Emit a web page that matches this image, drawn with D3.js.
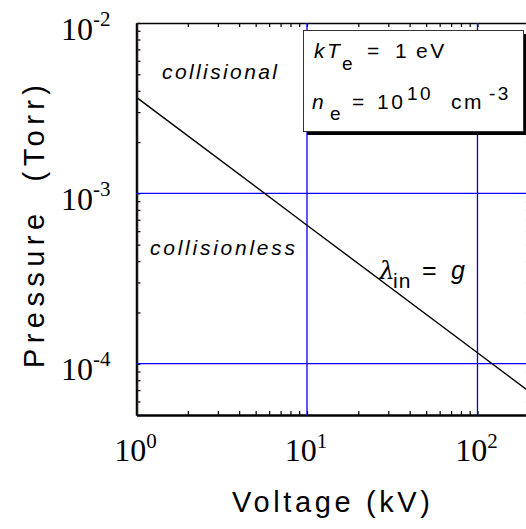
<!DOCTYPE html>
<html>
<head>
<meta charset="utf-8">
<script src="https://cdn.jsdelivr.net/npm/d3@7"></script>
<style>
  body { margin: 0; background: #fff; }
  svg { display: block; }
  text { white-space: pre; }
</style>
</head>
<body>
<script>
// datos
var voltage = [1, 10, 100, 200];
var pressure = [3.66e-3, 6.5e-4, 1.16e-4, 6.9e-5];
var xMajor = [1, 10, 100];
var xExp = ["0", "1", "2"];
var yMajor = [1e-2, 1e-3, 1e-4];
var yExp = ["-2", "-3", "-4"];

var W = 526, H = 529;
var svg = d3.select("body").append("svg")
    .attr("width", W)
    .attr("height", H);

// escalas log
var x = d3.scaleLog().domain([1, 200]).range([136.5, 528.8]);
var y = d3.scaleLog().domain([5e-5, 1e-2]).range([415, 23]);

var blue = "#0000ff";

// ticks menores
function minors(lo, hi) {
  var out = [];
  for (var e = Math.floor(Math.log10(lo)); e <= Math.ceil(Math.log10(hi)); e++) {
    for (var k = 1; k < 10; k++) {
      var v = k * Math.pow(10, e);
      if (v >= lo && v <= hi) out.push(v);
    }
  }
  return out;
}
var xMin = minors(1, 200), yMin = minors(5e-5, 1e-2);

// ejes
var axB = svg.append("g").attr("transform", "translate(0," + y(5e-5) + ")")
    .call(d3.axisBottom(x).tickValues(xMin).tickSize(-4).tickSizeOuter(0).tickFormat(""));
var axT = svg.append("g").attr("transform", "translate(0," + y(1e-2) + ")")
    .call(d3.axisTop(x).tickValues(xMin).tickSize(-4).tickSizeOuter(0).tickFormat(""));
var axL = svg.append("g").attr("transform", "translate(" + x(1) + ",0)")
    .call(d3.axisLeft(y).tickValues(yMin).tickSize(-4).tickSizeOuter(0).tickFormat(""));
var axR = svg.append("g").attr("transform", "translate(" + x(200) + ",0)")
    .call(d3.axisRight(y).tickValues(yMin).tickSize(-4).tickSizeOuter(0).tickFormat(""));
[axB, axT, axL, axR].forEach(function(a){
  a.selectAll(".tick line").attr("stroke", "#000").attr("stroke-width", 1.2);
  a.select(".domain").attr("stroke", "#000").attr("stroke-width", 1.5);
});
axB.select(".domain").attr("stroke-width", 2.5);
axL.select(".domain").attr("stroke-width", 2.5);
axR.selectAll(".tick line").attr("stroke", "#aaa").attr("stroke-dasharray", "1,1");

// rejilla azul (encima de los ticks)
var grid = svg.append("g").attr("class", "grid");
grid.selectAll("line.gx").data(xMajor.slice(1)).enter().append("line")
    .attr("class", "gx")
    .attr("x1", function(d){ return x(d); }).attr("x2", function(d){ return x(d); })
    .attr("y1", y(1e-2)).attr("y2", y(5e-5))
    .style("stroke", blue).style("stroke-width", "1.3px");
grid.selectAll("line.gy").data(yMajor.slice(1)).enter().append("line")
    .attr("class", "gy")
    .attr("x1", x(1)).attr("x2", x(200))
    .attr("y1", function(d){ return y(d); }).attr("y2", function(d){ return y(d); })
    .style("stroke", blue).style("stroke-width", "1.3px");
// linea azul sobre el eje izquierdo
grid.append("line").attr("x1", x(1) + 1).attr("x2", x(1) + 1)
    .attr("y1", y(1e-2)).attr("y2", y(5e-5)).style("stroke", blue).style("stroke-width", "1px");

// linea lambda_in = g
var line = d3.line()
    .x(function(d, i){ return x(voltage[i]); })
    .y(function(d){ return y(d); });
svg.append("path").datum(pressure)
    .attr("d", line)
    .attr("fill", "none").attr("stroke", "#000").attr("stroke-width", 1.4);

// etiquetas de ticks
var serif = "Liberation Serif, Times New Roman, serif";
var xl = svg.append("g").selectAll("text").data(xMajor).enter().append("text")
    .attr("x", function(d){ return x(d) - 1; })
    .attr("y", 461)
    .attr("text-anchor", "middle")
    .attr("font-family", serif)
    .attr("font-size", 32);
xl.append("tspan").text("10");
xl.append("tspan").attr("dy", -13).attr("font-size", 21).text(function(d, i){ return xExp[i]; });

var yl = svg.append("g").selectAll("text").data(yMajor).enter().append("text")
    .attr("x", 61)
    .attr("y", function(d){ return y(d) + 16.5; })
    .attr("font-family", serif)
    .attr("font-size", 32);
yl.append("tspan").text("10");
yl.append("tspan").attr("dy", -14).attr("font-size", 21).text(function(d, i){ return yExp[i]; });

// titulos de ejes
var sans = "Liberation Sans, Arial, Helvetica, sans-serif";
svg.append("text")
    .attr("x", 232).attr("y", 512)
    .attr("font-family", sans).attr("font-size", 29)
    .attr("textLength", 198).attr("lengthAdjust", "spacing")
    .text("Voltage (kV)");
svg.append("text")
    .attr("transform", "rotate(-90)")
    .attr("x", -368).attr("y", 44)
    .attr("font-family", sans).attr("font-size", 29)
    .attr("textLength", 283).attr("lengthAdjust", "spacing")
    .text("Pressure  (Torr)");

// regiones
svg.append("text")
    .attr("x", 162).attr("y", 79)
    .attr("font-family", sans).attr("font-size", 21).attr("font-style", "italic")
    .attr("textLength", 115).attr("lengthAdjust", "spacing")
    .text("collisional");
svg.append("text")
    .attr("x", 150).attr("y", 255)
    .attr("font-family", sans).attr("font-size", 21).attr("font-style", "italic")
    .attr("textLength", 145).attr("lengthAdjust", "spacing")
    .text("collisionless");

// lambda_in = g
var lab = svg.append("text").attr("y", 279)
    .attr("font-family", sans).attr("font-size", 25);
lab.append("tspan").attr("x", 379).attr("font-family", "DejaVu Serif, serif").attr("font-style", "italic").text("λ");
lab.append("tspan").attr("x", 393).attr("dy", 9).attr("font-size", 21).attr("letter-spacing", 1).text("in");
lab.append("tspan").attr("x", 422).attr("dy", -9).text("=");
lab.append("tspan").attr("x", 451).attr("font-style", "italic").text("g");

// caja con sombra
svg.append("rect").attr("x", 307).attr("y", 34).attr("width", 220).attr("height", 101).attr("fill", "#000");
svg.append("rect").attr("x", 303.5).attr("y", 30.5).attr("width", 220).attr("height", 101)
    .attr("fill", "#fff").attr("stroke", "#333").attr("stroke-width", 1);

var l1 = svg.append("text").attr("y", 58)
    .attr("font-family", sans).attr("font-size", 21).attr("letter-spacing", 2.5);
l1.append("tspan").attr("x", 314).attr("font-style", "italic").text("kT");
l1.append("tspan").attr("x", 342).attr("dy", 12).attr("font-size", 19).attr("letter-spacing", 0).text("e");
l1.append("tspan").attr("x", 367).attr("dy", -12).text("=");
l1.append("tspan").attr("x", 395).text("1");
l1.append("tspan").attr("x", 416).text("eV");

var l2 = svg.append("text").attr("y", 109)
    .attr("font-family", sans).attr("font-size", 21).attr("letter-spacing", 2.5);
l2.append("tspan").attr("x", 312).attr("font-style", "italic").text("n");
l2.append("tspan").attr("x", 330).attr("dy", 11).attr("font-size", 19).attr("letter-spacing", 0).text("e");
l2.append("tspan").attr("x", 352).attr("dy", -11).text("=");
l2.append("tspan").attr("x", 377).text("10");
l2.append("tspan").attr("x", 407).attr("dy", -9).attr("font-size", 19).text("10");
l2.append("tspan").attr("x", 451).attr("dy", 9).text("cm");
l2.append("tspan").attr("x", 489).attr("dy", -9).attr("font-size", 19).text("-3");
</script>
</body>
</html>
